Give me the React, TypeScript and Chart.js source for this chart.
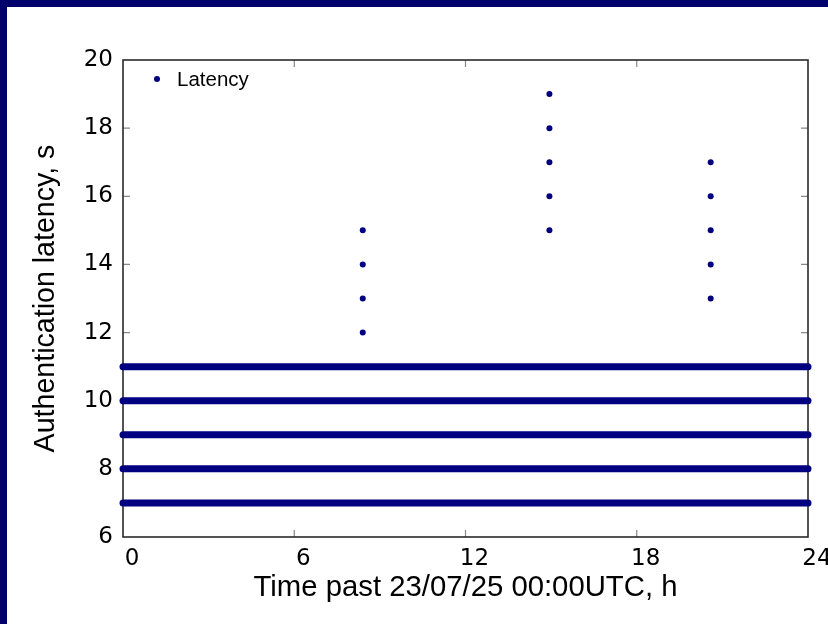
import { useEffect, useRef } from "react";
import { Chart, registerables } from "chart.js";

Chart.register(...registerables);

// ---- data ----
const seriesLabel = "Latency";
const xTitle = "Time past 23/07/25 00:00UTC, h";
const yTitle = "Authentication latency, s";

// steady baseline latency levels (s), recorded continuously over the day
const baselineLevels = [7, 8, 9, 10, 11];
const baselineStart = 0;
const baselineEnd = 24;

// bursts of higher latency: time (h) and the latencies seen then (s)
const burstTimes = [8.4, 14.94, 20.59];
const burstMorning = [12, 13, 14, 15];
const burstAfternoon = [15, 16, 17, 18, 19];
const burstEvening = [13, 14, 15, 16, 17];

const xMin = 0;
const xMax = 24;
const xStep = 6;
const yMin = 6;
const yMax = 20;
const yStep = 2;

// ---- styles ----
const NAVY = "#000080";
const PAGE_NAVY = "#00006c";
const W = 828;
const H = 624;

export default function App() {
  const ref = useRef<HTMLCanvasElement | null>(null);

  useEffect(() => {
    const canvas = ref.current;
    if (!canvas) return;

    const bursts = [burstMorning, burstAfternoon, burstEvening];
    const burstPoints = burstTimes.flatMap((t, i) =>
      bursts[i].map((v) => ({ x: t, y: v }))
    );

    const bandSets = baselineLevels.map((lvl) => ({
      label: seriesLabel + " baseline " + lvl,
      data: [
        { x: baselineStart, y: lvl },
        { x: baselineEnd, y: lvl },
      ],
      showLine: true,
      borderColor: NAVY,
      backgroundColor: NAVY,
      borderWidth: 7,
      borderCapStyle: "round" as const,
      pointRadius: 0,
      pointHoverRadius: 0,
      clip: false as const,
    }));

    const backgroundPlugin = {
      id: "pageBackground",
      beforeDraw(chart: any) {
        const { ctx, width, height } = chart;
        ctx.save();
        ctx.fillStyle = PAGE_NAVY;
        ctx.fillRect(0, 0, width, height);
        ctx.fillStyle = "#ffffff";
        ctx.fillRect(7, 7, width - 7, height - 7);
        ctx.restore();
      },
    };

    const framePlugin = {
      id: "frameTicks",
      beforeDatasetsDraw(chart: any) {
        const { ctx, chartArea } = chart;
        const { left, right, top, bottom } = chartArea;
        const xs = chart.scales.x;
        const ys = chart.scales.y;
        const tl = 7;
        ctx.save();
        ctx.strokeStyle = "#888888";
        ctx.lineWidth = 1.2;
        ctx.beginPath();
        for (let v = xMin + xStep; v < xMax; v += xStep) {
          const px = xs.getPixelForValue(v);
          ctx.moveTo(px, bottom);
          ctx.lineTo(px, bottom - tl);
          ctx.moveTo(px, top);
          ctx.lineTo(px, top + tl);
        }
        for (let v = yMin + yStep; v < yMax; v += yStep) {
          const py = ys.getPixelForValue(v);
          ctx.moveTo(left, py);
          ctx.lineTo(left + tl, py);
          ctx.moveTo(right, py);
          ctx.lineTo(right - tl, py);
        }
        ctx.stroke();
        ctx.strokeStyle = "#2a2a2a";
        ctx.lineWidth = 1.6;
        ctx.strokeRect(left, top, right - left, bottom - top);
        ctx.restore();
      },
    };

    const legendPlugin = {
      id: "insideLegend",
      afterDatasetsDraw(chart: any) {
        const { ctx, chartArea } = chart;
        const cx = chartArea.left + 34;
        const cy = chartArea.top + 19;
        ctx.save();
        ctx.fillStyle = NAVY;
        ctx.beginPath();
        ctx.arc(cx, cy, 3, 0, Math.PI * 2);
        ctx.fill();
        ctx.fillStyle = "#000000";
        ctx.font = "20.5px 'Liberation Sans', Arial, sans-serif";
        ctx.textBaseline = "middle";
        ctx.textAlign = "left";
        ctx.fillText(chart.data.datasets[0].label, cx + 20, cy + 1);
        ctx.restore();
      },
    };

    const chart = new Chart(canvas, {
      type: "scatter",
      data: {
        datasets: [
          {
            label: seriesLabel,
            data: burstPoints,
            backgroundColor: NAVY,
            borderColor: NAVY,
            pointRadius: 3,
            pointBorderWidth: 0,
            clip: false as const,
          } as any,
          ...(bandSets as any[]),
        ],
      },
      options: {
        responsive: false,
        animation: false,
        devicePixelRatio: 1,
        layout: { padding: { left: 0, top: 60, right: 20, bottom: 0 } },
        plugins: {
          legend: { display: false },
          tooltip: { enabled: false },
        },
        scales: {
          x: {
            type: "linear",
            position: "bottom",
            min: xMin,
            max: xMax,
            grid: { display: false, drawTicks: false },
            border: { display: false },
            ticks: {
              stepSize: xStep,
              color: "#000000",
              font: { family: "'DejaVu Sans'", size: 23 },
              padding: 8,
              labelOffset: 9,
              maxRotation: 0,
            },
            title: {
              display: true,
              text: xTitle,
              color: "#000000",
              font: { family: "'Liberation Sans'", size: 29.3 },
              padding: { top: 0, bottom: 18.5 },
            },
            afterFit(scale: any) {
              scale.height = 87;
              scale.paddingRight = 0;
              scale.paddingLeft = 0;
            },
          },
          y: {
            type: "linear",
            position: "left",
            min: yMin,
            max: yMax,
            grid: { display: false, drawTicks: false },
            border: { display: false },
            ticks: {
              stepSize: yStep,
              color: "#000000",
              font: { family: "'DejaVu Sans'", size: 23 },
              padding: 10,
            },
            title: {
              display: true,
              text: yTitle,
              color: "#000000",
              font: { family: "'Liberation Sans'", size: 28.6 },
              padding: { top: 29, bottom: 0 },
            },
            afterFit(scale: any) {
              scale.width = 123;
            },
          },
        },
      },
      plugins: [backgroundPlugin, framePlugin, legendPlugin],
    });

    return () => chart.destroy();
  }, []);

  return (
    <div style={{ position: "fixed", left: 0, top: 0, width: W, height: H }}>
      <canvas ref={ref} width={W} height={H} style={{ display: "block" }} />
    </div>
  );
}
